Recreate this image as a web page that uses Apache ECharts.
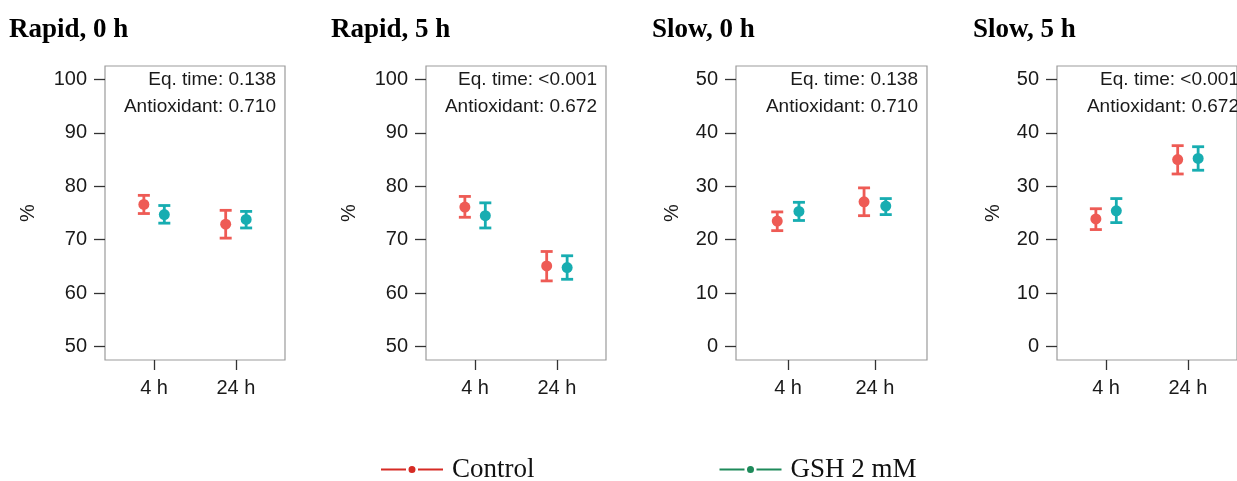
<!DOCTYPE html>
<html><head><meta charset="utf-8">
<script src="https://cdn.jsdelivr.net/npm/echarts@6/dist/echarts.min.js"></script>
<style>html,body{margin:0;padding:0;background:#fff}#c{width:1237px;height:481px}</style>
</head><body><div id="c"></div>
<script>
// ---- data ----
const panelTitles = ['Rapid, 0 h', 'Rapid, 5 h', 'Slow, 0 h', 'Slow, 5 h'];
const timeLabels = ['4 h', '24 h'];
const seriesNames = ['Control', 'GSH 2 mM'];
const controlMean = [[76.6, 72.9], [76.1, 65.1], [23.5, 27.1], [23.9, 35.0]];
const controlLow  = [[74.9, 70.3], [74.2, 62.3], [21.7, 24.5], [21.9, 32.3]];
const controlHigh = [[78.3, 75.5], [78.1, 67.8], [25.2, 29.7], [25.8, 37.6]];
const gshMean = [[74.7, 73.8], [74.5, 64.8], [25.3, 26.3], [25.4, 35.2]];
const gshLow  = [[73.1, 72.2], [72.2, 62.6], [23.6, 24.7], [23.2, 33.0]];
const gshHigh = [[76.4, 75.3], [76.9, 67.0], [27.0, 27.7], [27.7, 37.4]];
const eqTimeP = ['0.138', '<0.001', '0.138', '<0.001'];
const antioxidantP = ['0.710', '0.672', '0.710', '0.672'];
const yTicksRapid = [50, 60, 70, 80, 90, 100];
const yTicksSlow = [0, 10, 20, 30, 40, 50];
const panelTicks = [yTicksRapid, yTicksRapid, yTicksSlow, yTicksSlow];

// ---- layout / style ----
const gridLeft = [105, 426, 736, 1057];
const gridWidth = [180, 180, 191, 191];
const gridTop = 66, gridHeight = 294;
const titleLeft = [4, 326, 647, 968];
const nameGap = [67, 67, 54, 54];
const pointColors = ['#ee5b55', '#17adb1'];
const legendColors = ['#d62b24', '#1e8a5a'];
const dodge = 0.125;
const sans = 'Liberation Sans, Arial, sans-serif';
const serif = 'Liberation Serif, Times New Roman, serif';

function errRender(params, api) {
  const x = api.value(0), lo = api.value(1), hi = api.value(2);
  const pLo = api.coord([x, lo]), pHi = api.coord([x, hi]);
  const hw = 6;
  const style = { stroke: api.visual('color'), lineWidth: 2.8, fill: null };
  return { type: 'group', children: [
    { type: 'line', shape: { x1: pLo[0], y1: pLo[1], x2: pHi[0], y2: pHi[1] }, style },
    { type: 'line', shape: { x1: pLo[0] - hw, y1: pLo[1], x2: pLo[0] + hw, y2: pLo[1] }, style },
    { type: 'line', shape: { x1: pHi[0] - hw, y1: pHi[1], x2: pHi[0] + hw, y2: pHi[1] }, style }
  ]};
}

const grids = [], xAxes = [], yAxes = [], series = [], titles = [], graphics = [];
const groups = [
  { mean: controlMean, low: controlLow, high: controlHigh, off: -dodge },
  { mean: gshMean, low: gshLow, high: gshHigh, off: dodge }
];
panelTitles.forEach((t, p) => {
  grids.push({ left: gridLeft[p], top: gridTop, width: gridWidth[p], height: gridHeight,
    show: true, borderColor: '#9b9b9b', borderWidth: 1.2, backgroundColor: '#fff' });
  xAxes.push({ gridIndex: p, type: 'value', min: 0.4, max: 2.6, position: 'bottom',
    axisLine: { show: false, onZero: false }, splitLine: { show: false },
    axisTick: { show: true, customValues: [1, 2], length: 10, lineStyle: { color: '#333', width: 1.3 } },
    axisLabel: { customValues: [1, 2], formatter: v => timeLabels[Math.round(v) - 1] || '',
      fontFamily: sans, fontSize: 20, color: '#1a1a1a', margin: 18 } });
  const tk = panelTicks[p];
  const pad = (tk[tk.length - 1] - tk[0]) * 0.05;
  yAxes.push({ gridIndex: p, type: 'value', min: tk[0] - pad, max: tk[tk.length - 1] + pad, position: 'left',
    name: '%', nameLocation: 'middle', nameGap: nameGap[p], nameRotate: 90,
    nameTextStyle: { fontFamily: sans, fontSize: 20, color: '#1a1a1a' },
    axisLine: { show: false, onZero: false }, splitLine: { show: false },
    axisTick: { show: true, customValues: tk, length: 11, lineStyle: { color: '#333', width: 1.3 } },
    axisLabel: { customValues: tk, fontFamily: sans, fontSize: 20, color: '#1a1a1a', margin: 18 } });
  titles.push({ text: t, left: titleLeft[p], top: 12,
    textStyle: { fontFamily: serif, fontWeight: 'bold', fontSize: 27, color: '#000' } });
  graphics.push({ type: 'text', x: gridLeft[p] + gridWidth[p] - 9, y: 80,
    style: { text: 'Eq. time: ' + eqTimeP[p], align: 'right', verticalAlign: 'middle',
      font: '19px ' + sans, fill: '#1a1a1a' } });
  graphics.push({ type: 'text', x: gridLeft[p] + gridWidth[p] - 9, y: 107,
    style: { text: 'Antioxidant: ' + antioxidantP[p], align: 'right', verticalAlign: 'middle',
      font: '19px ' + sans, fill: '#1a1a1a' } });
  groups.forEach((g, s) => {
    const errData = timeLabels.map((_, i) => [i + 1 + g.off, g.low[p][i], g.high[p][i]]);
    const ptData = timeLabels.map((_, i) => [i + 1 + g.off, g.mean[p][i]]);
    series.push({ name: seriesNames[s], type: 'custom', xAxisIndex: p, yAxisIndex: p,
      renderItem: errRender, data: errData, encode: { x: 0, y: [1, 2] },
      itemStyle: { color: pointColors[s] }, silent: true, z: 2 });
    series.push({ name: seriesNames[s], type: 'scatter', xAxisIndex: p, yAxisIndex: p,
      data: ptData, symbol: 'circle', symbolSize: 11,
      itemStyle: { color: pointColors[s], opacity: 1 }, silent: true, z: 3 });
  });
});

const legendIcon = 'path://M0,2.5h25v2.2H0z M27.5,3.6a3.5,3.5 0 1,0 7,0a3.5,3.5 0 1,0 -7,0z M37,2.5h25v2.2H37z';

const chart = echarts.init(document.getElementById('c'), null, { renderer: 'canvas' });
chart.setOption({
  backgroundColor: '#fff',
  animation: false,
  title: titles,
  grid: grids,
  xAxis: xAxes,
  yAxis: yAxes,
  series: series,
  graphic: graphics,
  legend: {
    left: 381, top: 456, padding: 0, itemGap: 185, itemWidth: 62, itemHeight: 7,
    icon: legendIcon, selectedMode: false,
    textStyle: { fontFamily: serif, fontSize: 27, color: '#111', padding: [0, 0, 0, 4] },
    data: seriesNames.map((n, i) => ({ name: n, itemStyle: { color: legendColors[i] } }))
  }
});
</script></body></html>
